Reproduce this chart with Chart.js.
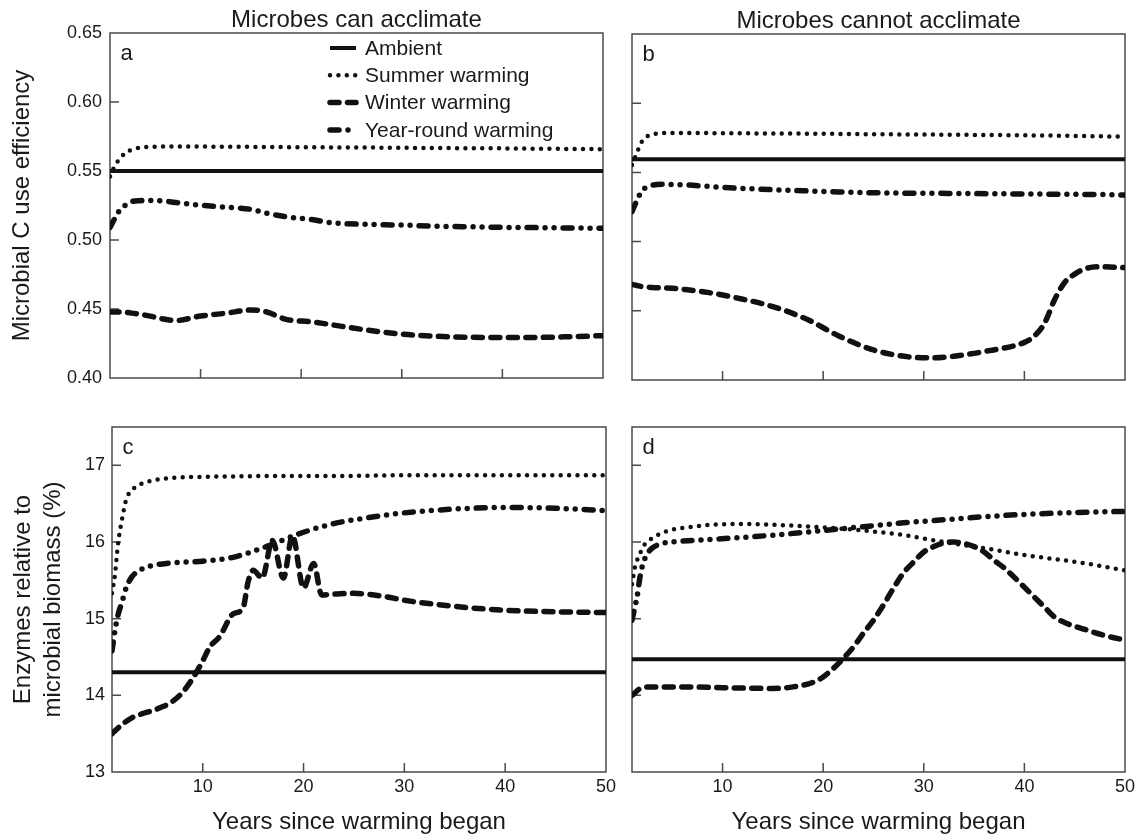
<!DOCTYPE html>
<html>
<head>
<meta charset="utf-8">
<title>Microbial C use efficiency and enzyme allocation under warming</title>
<script src="https://cdn.jsdelivr.net/npm/chart.js@4.4.0/dist/chart.umd.min.js"></script>
<style>
  body { margin: 0; background: #fff; }
  #figure { position: relative; width: 1140px; height: 834px; overflow: hidden; background: #fff; }
  #figure canvas { position: absolute; }
</style>
</head>
<body>
<div id="figure">
  <canvas id="panelA" width="620" height="400" style="left:0;top:0"></canvas>
  <canvas id="panelB" width="520" height="400" style="left:620px;top:0"></canvas>
  <canvas id="panelC" width="620" height="434" style="left:0;top:400px"></canvas>
  <canvas id="panelD" width="520" height="434" style="left:620px;top:400px"></canvas>
</div>
<script>
const seriesNames = ['Ambient', 'Summer warming', 'Winter warming', 'Year-round warming'];
const yearTicks = [10, 20, 30, 40, 50];
const cueTicks = [0.40, 0.45, 0.50, 0.55, 0.60, 0.65];
const enzymeTicks = [13, 14, 15, 16, 17];
const ambientYears = [1, 50];

// a: carbon use efficiency, microbes acclimate
const yearsA = [1, 1.5, 2, 2.5, 3, 4, 5, 6, 7.5, 10, 12.5, 15, 16.5, 18.5, 21, 23, 26.5, 30, 33, 36.5, 40, 43, 46.5, 50];
const ambientA = [0.55, 0.55];
const summerA = [0.546, 0.554, 0.559, 0.563, 0.565, 0.567, 0.5675, 0.5677, 0.5677, 0.5677, 0.5676, 0.5675, 0.5674, 0.5673, 0.5672, 0.5671, 0.567, 0.5668, 0.5667, 0.5665, 0.5664, 0.5662, 0.566, 0.5658];
const winterA = [0.4478, 0.4478, 0.4478, 0.4476, 0.4472, 0.4462, 0.4448, 0.4432, 0.4416, 0.4449, 0.4469, 0.4493, 0.448, 0.4425, 0.4408, 0.4386, 0.4348, 0.4318, 0.4304, 0.4295, 0.4294, 0.4294, 0.4299, 0.4307];
const yearRoundA = [0.509, 0.516, 0.522, 0.525, 0.5275, 0.5285, 0.5287, 0.5285, 0.5272, 0.5252, 0.5238, 0.5222, 0.5195, 0.5168, 0.5148, 0.5125, 0.5113, 0.5108, 0.5101, 0.5096, 0.5092, 0.509, 0.5087, 0.5085];

// b: carbon use efficiency, no acclimation
const yearsB = [1, 1.5, 2, 2.5, 3, 4, 5, 6.5, 8.5, 11.5, 15, 18.5, 21.5, 25, 28.5, 31, 33, 36.5, 40, 41, 42, 43, 44, 45, 46, 47.5, 50];
const ambientB = [0.5595, 0.5595];
const summerB = [0.5553, 0.5645, 0.5725, 0.576, 0.5775, 0.5783, 0.5785, 0.5785, 0.5784, 0.5783, 0.5781, 0.578, 0.5778, 0.5776, 0.5774, 0.5773, 0.5772, 0.577, 0.5768, 0.5767, 0.5767, 0.5766, 0.5765, 0.5764, 0.5763, 0.5761, 0.5758];
const winterB = [0.4691, 0.4683, 0.4675, 0.4672, 0.4669, 0.4666, 0.4663, 0.4652, 0.4633, 0.4592, 0.453, 0.4435, 0.432, 0.4217, 0.4167, 0.416, 0.4172, 0.4212, 0.4272, 0.4318, 0.441, 0.458, 0.4705, 0.4765, 0.4803, 0.4818, 0.4812];
const yearRoundB = [0.5216, 0.530, 0.5368, 0.5395, 0.5408, 0.5414, 0.5413, 0.5409, 0.5399, 0.5386, 0.5375, 0.5366, 0.5359, 0.5353, 0.535, 0.5349, 0.5348, 0.5346, 0.5344, 0.5344, 0.5343, 0.5343, 0.5343, 0.5342, 0.5341, 0.534, 0.5337];

// c: enzymes relative to biomass (%), microbes acclimate
const yearsC = [1, 1.3, 1.6, 2, 2.4, 3, 4.4, 6.4, 10, 13, 16.3, 19.6, 23, 26, 30, 35, 40, 45, 50];
const ambientC = [14.3, 14.3];
const summerC = [15.33, 15.58, 15.98, 16.30, 16.55, 16.68, 16.78, 16.83, 16.85, 16.855, 16.86, 16.86, 16.86, 16.865, 16.87, 16.87, 16.87, 16.87, 16.87];
const yearRoundC = [14.58, 14.85, 15.05, 15.22, 15.40, 15.55, 15.67, 15.72, 15.75, 15.80, 15.94, 16.11, 16.24, 16.31, 16.38, 16.43, 16.45, 16.44, 16.41];
const winterYearsC = [1, 2, 3, 4, 5, 6, 7, 8, 9, 10, 10.7, 11.7, 13, 14, 14.5, 15, 15.9, 16.9, 18, 18.9, 20, 21, 21.8, 23, 25, 28, 30, 35, 40, 45, 50];
const winterC = [13.50, 13.62, 13.71, 13.76, 13.80, 13.85, 13.92, 14.04, 14.22, 14.45, 14.63, 14.77, 15.06, 15.14, 15.48, 15.63, 15.53, 16.02, 15.53, 16.08, 15.40, 15.72, 15.31, 15.32, 15.33, 15.29, 15.24, 15.16, 15.11, 15.09, 15.08];

// d: enzymes relative to biomass (%), no acclimation
const yearsD = [1, 1.3, 1.5, 1.8, 2.1, 2.5, 3, 4, 5, 7, 9.6, 12, 16, 20, 24, 28, 32, 36, 40, 44, 47, 50];
const ambientD = [14.47, 14.47];
const summerD = [15.45, 15.68, 15.76, 15.85, 15.94, 16.00, 16.05, 16.12, 16.16, 16.20, 16.23, 16.235, 16.22, 16.19, 16.15, 16.09, 16.00, 15.92, 15.83, 15.76, 15.70, 15.63];
const yearRoundD = [14.98, 15.16, 15.28, 15.55, 15.72, 15.84, 15.92, 15.98, 16.00, 16.02, 16.04, 16.06, 16.10, 16.15, 16.20, 16.25, 16.29, 16.33, 16.36, 16.38, 16.39, 16.40];
const winterYearsD = [1, 2, 3, 6, 10, 15, 17, 19, 20, 21, 22, 23, 24, 25, 26, 27, 28, 29, 30, 31, 32, 33, 34, 35, 36, 37, 38, 40, 42, 43, 44, 46, 48, 50];
const winterD = [14.00, 14.10, 14.11, 14.11, 14.10, 14.09, 14.11, 14.17, 14.24, 14.35, 14.48, 14.63, 14.81, 14.98, 15.18, 15.40, 15.60, 15.74, 15.87, 15.94, 15.99, 16.00, 15.98, 15.94, 15.87, 15.76, 15.66, 15.41, 15.15, 15.02, 14.95, 14.86, 14.78, 14.72];

const ink = '#1a1a1a';
Chart.defaults.font.family = '"Liberation Sans", Arial, Helvetica, sans-serif';
Chart.defaults.font.size = 18;
Chart.defaults.color = ink;

// solid, dotted, dashed, dash-dot-dot
const lineStyles = [
  { borderWidth: 4, borderDash: [], borderCapStyle: 'butt' },
  { borderWidth: 4.5, borderDash: [0, 8.4], borderCapStyle: 'round' },
  { borderWidth: 5.5, borderDash: [9, 8.5], borderCapStyle: 'round' },
  { borderWidth: 5.5, borderDash: [9, 9, 0, 9, 0, 9], borderCapStyle: 'round' }
];

function pts(xs, ys) {
  return xs.map((x, i) => ({ x: x, y: ys[i] }));
}

function datasets(series) {
  return series.map((s, i) => Object.assign({
    label: seriesNames[i],
    data: pts(s[0], s[1]),
    borderColor: '#111',
    borderJoinStyle: 'round',
    pointRadius: 0,
    cubicInterpolationMode: 'monotone',
    fill: false
  }, lineStyles[i]));
}

// box around the plot, inward tick marks and the panel letter
const panelFrame = {
  id: 'panelFrame',
  beforeDatasetsDraw(chart, args, opts) {
    const { ctx, chartArea: a, scales } = chart;
    ctx.save();
    ctx.strokeStyle = '#4a4a4a';
    ctx.lineWidth = 1.5;
    ctx.setLineDash([]);
    ctx.strokeRect(a.left, a.top, a.right - a.left, a.bottom - a.top);
    ctx.beginPath();
    scales.x.ticks.forEach(t => {
      if (t.value <= scales.x.min || t.value >= scales.x.max) return;
      const px = scales.x.getPixelForValue(t.value);
      ctx.moveTo(px, a.bottom);
      ctx.lineTo(px, a.bottom - 9);
    });
    scales.y.ticks.forEach(t => {
      if (t.value <= scales.y.min || t.value >= scales.y.max) return;
      const py = scales.y.getPixelForValue(t.value);
      ctx.moveTo(a.left, py);
      ctx.lineTo(a.left + 9, py);
    });
    ctx.stroke();
    ctx.fillStyle = ink;
    ctx.font = '22px "Liberation Sans", Arial, sans-serif';
    ctx.textBaseline = 'alphabetic';
    ctx.textAlign = 'left';
    ctx.fillText(opts.letter, a.left + 10.5, a.top + 27);
    ctx.restore();
  }
};

// line-style key drawn inside the plot area
const lineKey = {
  id: 'lineKey',
  afterDatasetsDraw(chart, args, opts) {
    if (!opts.show) return;
    const { ctx, chartArea: a } = chart;
    ctx.save();
    ctx.font = '21px "Liberation Sans", Arial, sans-serif';
    ctx.textBaseline = 'middle';
    ctx.textAlign = 'left';
    chart.data.datasets.forEach((ds, i) => {
      const y = a.top + opts.dy + i * opts.gap;
      const x0 = a.left + opts.dx;
      ctx.strokeStyle = ds.borderColor;
      ctx.lineWidth = ds.borderWidth;
      ctx.lineCap = ds.borderCapStyle;
      ctx.setLineDash(ds.borderDash);
      ctx.beginPath();
      ctx.moveTo(x0, y);
      ctx.lineTo(x0 + 26, y);
      ctx.stroke();
      ctx.fillStyle = ink;
      ctx.fillText(ds.label, a.left + opts.textX, y + 1);
    });
    ctx.restore();
  }
};

function makePanel(id, cfg) {
  return new Chart(document.getElementById(id), {
    type: 'line',
    data: { datasets: datasets(cfg.series) },
    plugins: [panelFrame, lineKey],
    options: {
      responsive: false,
      animation: false,
      events: [],
      layout: { padding: cfg.padding },
      plugins: {
        legend: { display: false },
        tooltip: { enabled: false },
        title: {
          display: !!cfg.title,
          text: cfg.title || '',
          fullSize: false,
          color: ink,
          font: { size: 24, weight: 'normal', lineHeight: 1 },
          padding: { top: cfg.titleTop || 0, bottom: 1 }
        },
        panelFrame: { letter: cfg.letter },
        lineKey: cfg.key || { show: false }
      },
      scales: {
        x: {
          type: 'linear',
          min: 1,
          max: 50,
          afterBuildTicks: s => { s.ticks = yearTicks.map(v => ({ value: v })); },
          afterFit: s => { s.height = cfg.xHeight; },
          grid: { display: false, drawTicks: false },
          border: { display: false },
          ticks: { display: cfg.xLabels, padding: 4 },
          title: {
            display: cfg.xLabels,
            text: 'Years since warming began',
            font: { size: 24, lineHeight: 1 },
            padding: { top: 0, bottom: 0 }
          }
        },
        y: {
          type: 'linear',
          min: cfg.yMin,
          max: cfg.yMax,
          afterBuildTicks: s => { s.ticks = cfg.yTicks.map(v => ({ value: v })); },
          afterFit: s => { s.width = cfg.yWidth; },
          grid: { display: false, drawTicks: false },
          border: { display: false },
          ticks: {
            display: !!cfg.yFormat,
            padding: cfg.yPad || 0,
            callback: cfg.yFormat || (v => v)
          },
          title: {
            display: !!cfg.yTitle,
            text: cfg.yTitle || '',
            font: { size: 24, lineHeight: 1.25 },
            padding: { top: cfg.yTitlePad || 0, bottom: 0 }
          }
        }
      }
    }
  });
}

makePanel('panelA', {
  letter: 'a',
  title: 'Microbes can acclimate',
  titleTop: 8,
  series: [[ambientYears, ambientA], [yearsA, summerA], [yearsA, winterA], [yearsA, yearRoundA]],
  key: { show: true, dx: 220, dy: 15, gap: 27.3, textX: 255 },
  padding: { left: 0, right: 17, top: 0, bottom: 0 },
  xHeight: 22, xLabels: false,
  yMin: 0.40, yMax: 0.65, yTicks: cueTicks, yWidth: 110, yPad: 8,
  yFormat: v => v.toFixed(2),
  yTitle: 'Microbial C use efficiency', yTitlePad: 7
});

makePanel('panelB', {
  letter: 'b',
  title: 'Microbes cannot acclimate',
  titleTop: 9,
  series: [[ambientYears, ambientB], [yearsB, summerB], [yearsB, winterB], [yearsB, yearRoundB]],
  padding: { left: 0, right: 15, top: 0, bottom: 0 },
  xHeight: 20, xLabels: false,
  yMin: 0.40, yMax: 0.65, yTicks: cueTicks, yWidth: 12
});

makePanel('panelC', {
  letter: 'c',
  series: [[ambientYears, ambientC], [yearsC, summerC], [winterYearsC, winterC], [yearsC, yearRoundC]],
  padding: { left: 0, right: 14, top: 27, bottom: 0 },
  xHeight: 62, xLabels: true,
  yMin: 13, yMax: 17.5, yTicks: enzymeTicks, yWidth: 112, yPad: 7,
  yFormat: v => String(v),
  yTitle: ['Enzymes relative to', 'microbial biomass (%)'], yTitlePad: 8
});

makePanel('panelD', {
  letter: 'd',
  series: [[ambientYears, ambientD], [yearsD, summerD], [winterYearsD, winterD], [yearsD, yearRoundD]],
  padding: { left: 0, right: 15, top: 27, bottom: 0 },
  xHeight: 62, xLabels: true,
  yMin: 13, yMax: 17.5, yTicks: enzymeTicks, yWidth: 12
});
</script>
</body>
</html>
